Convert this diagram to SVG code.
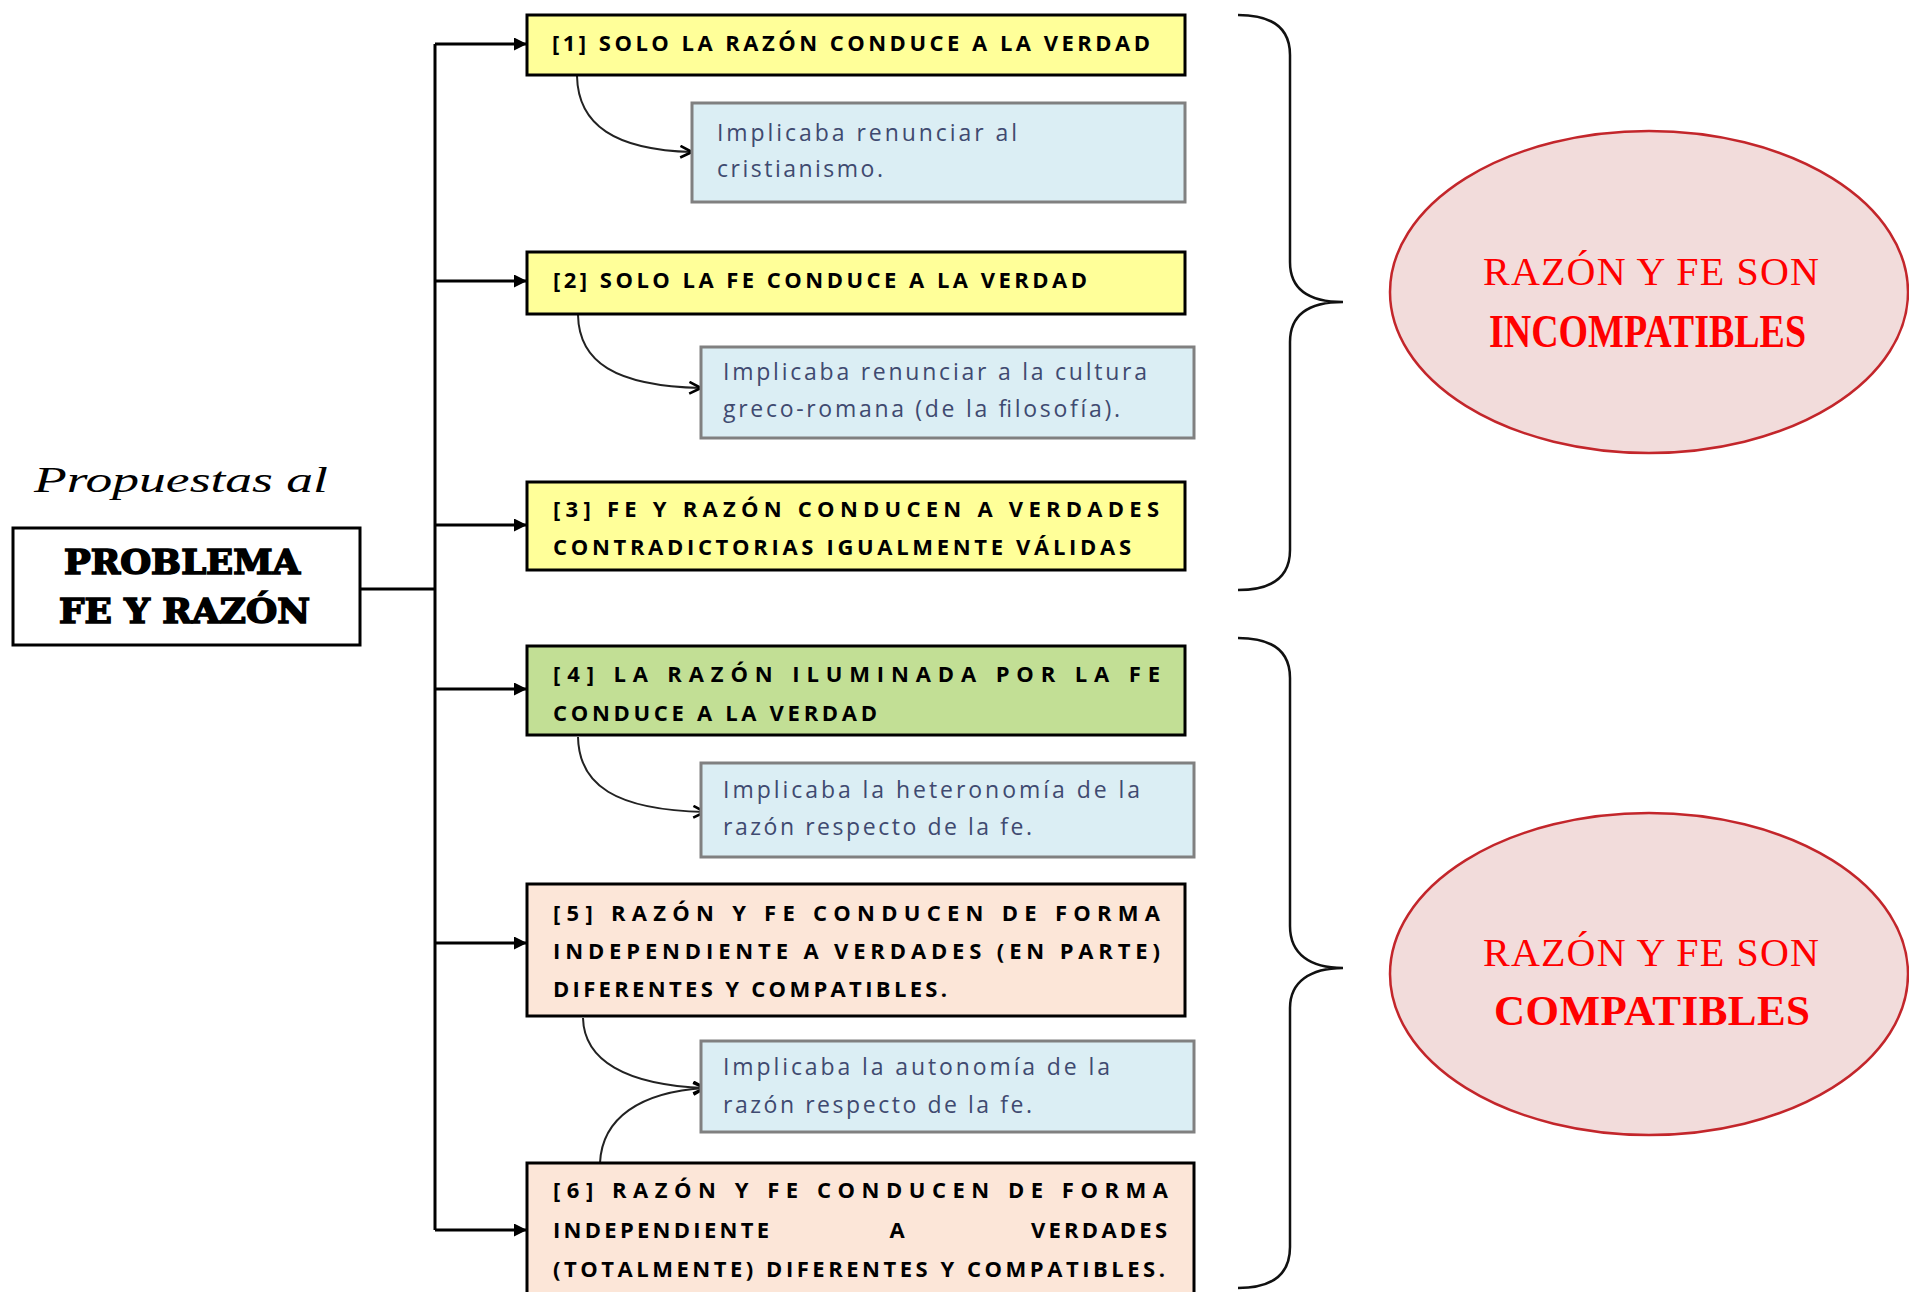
<svg xmlns="http://www.w3.org/2000/svg" width="1909" height="1292" viewBox="0 0 1909 1292">
<defs>
<style>
.bx{stroke:#000;stroke-width:3}
.y{fill:#ffff99}.g{fill:#c2df95}.p{fill:#fce6d8}
.bl{fill:#dbeef4;stroke:#808080;stroke-width:3}
.t{font-family:"Open Sans","Liberation Sans",sans-serif;font-weight:bold;font-size:22px;fill:#000}
.bt{font-family:"Open Sans","Liberation Sans",sans-serif;font-size:23px;fill:#3f4a70}
.et{font-family:"Liberation Serif",serif;fill:#ff0000}
.ln{fill:none;stroke:#000;stroke-width:3}
.cv{fill:none;stroke:#222;stroke-width:2}
.br{fill:none;stroke:#111;stroke-width:2.5}
.hv{font-family:"DejaVu Serif",serif;font-weight:bold;font-size:33px;fill:#000;stroke:#000;stroke-width:1.6}
</style>
<marker id="tri" viewBox="0 0 10 10" refX="10" refY="5" markerWidth="13" markerHeight="13" markerUnits="userSpaceOnUse" orient="auto"><path d="M0,0 L10,5 L0,10 z" fill="#000"/></marker>
<marker id="vee" viewBox="0 0 12 12" refX="11" refY="6" markerWidth="14" markerHeight="14" markerUnits="userSpaceOnUse" orient="auto"><path d="M1,1 L11,6 L1,11" fill="none" stroke="#000" stroke-width="2.2"/></marker>
</defs>
<rect width="1909" height="1292" fill="#fff"/>

<g id="connectors">
<path class="ln" d="M360,589 H435 M435,44 V1230"/>
<path class="ln" d="M435,44 H527" marker-end="url(#tri)"/>
<path class="ln" d="M435,281 H527" marker-end="url(#tri)"/>
<path class="ln" d="M435,525 H527" marker-end="url(#tri)"/>
<path class="ln" d="M435,689 H527" marker-end="url(#tri)"/>
<path class="ln" d="M435,943 H527" marker-end="url(#tri)"/>
<path class="ln" d="M435,1230 H527" marker-end="url(#tri)"/>
<path class="cv" d="M577,76 C578,125 615,150 692,152" marker-end="url(#vee)"/>
<path class="cv" d="M578,315 C579,362 615,386 701,388" marker-end="url(#vee)"/>
<path class="cv" d="M578,737 C579,785 615,810 705,812" marker-end="url(#vee)"/>
<path class="cv" d="M583,1018 C584,1060 625,1085 705,1088" marker-end="url(#vee)"/>
<path class="cv" d="M600,1163 C602,1118 640,1092 705,1088" marker-end="url(#vee)"/>
<path class="br" d="M1238,15 C1275,15 1290,30 1290,55 L1290,262 C1290,290 1310,302 1343,302 C1310,302 1290,314 1290,342 L1290,550 C1290,575 1275,590 1238,590"/>
<path class="br" d="M1238,638 C1275,638 1290,653 1290,678 L1290,926 C1290,954 1310,968 1343,968 C1310,968 1290,982 1290,1008 L1290,1247 C1290,1272 1275,1288 1238,1288"/>
</g>

<g id="title">
<text x="34" y="492" font-family="'Liberation Serif',serif" font-style="italic" font-size="36" textLength="294" lengthAdjust="spacingAndGlyphs">Propuestas al</text>
</g>

<g id="main">
<rect x="13" y="528" width="347" height="117" fill="#fff" class="bx"/>
<text class="hv" x="64" y="574" textLength="236" lengthAdjust="spacingAndGlyphs">PROBLEMA</text>
<text class="hv" x="59" y="623" textLength="251" lengthAdjust="spacingAndGlyphs">FE Y RAZÓN</text>
</g>

<g id="n1">
<rect x="527" y="15" width="658" height="60" class="bx y"/>
<text class="t" x="552" y="51" textLength="598" lengthAdjust="spacing">[1] SOLO LA RAZÓN CONDUCE A LA VERDAD</text>
</g>
<g id="n1b">
<rect x="692" y="103" width="493" height="99" class="bl"/>
<text class="bt" x="717" y="141" textLength="300" lengthAdjust="spacing">Implicaba  renunciar  al</text>
<text class="bt" x="717" y="177" textLength="166" lengthAdjust="spacing">cristianismo.</text>
</g>

<g id="n2">
<rect x="527" y="252" width="658" height="62" class="bx y"/>
<text class="t" x="553" y="288" textLength="534" lengthAdjust="spacing">[2] SOLO LA FE CONDUCE A LA VERDAD</text>
</g>
<g id="n2b">
<rect x="701" y="347" width="493" height="91" class="bl"/>
<text class="bt" x="723" y="380" textLength="424" lengthAdjust="spacing">Implicaba  renunciar  a la cultura</text>
<text class="bt" x="723" y="417" textLength="397" lengthAdjust="spacing">greco-romana  (de la filosofía).</text>
</g>

<g id="n3">
<rect x="527" y="482" width="658" height="88" class="bx y"/>
<text class="t" x="553" y="517" textLength="606" lengthAdjust="spacing">[3] FE Y RAZÓN CONDUCEN A VERDADES</text>
<text class="t" x="553" y="555" textLength="578" lengthAdjust="spacing">CONTRADICTORIAS IGUALMENTE VÁLIDAS</text>
</g>

<g id="n4">
<rect x="527" y="646" width="658" height="89" class="bx g"/>
<text class="t" x="553" y="682" textLength="607" lengthAdjust="spacing">[4] LA RAZÓN ILUMINADA POR LA FE</text>
<text class="t" x="553" y="721" textLength="324" lengthAdjust="spacing">CONDUCE A LA VERDAD</text>
</g>
<g id="n4b">
<rect x="701" y="763" width="493" height="94" class="bl"/>
<text class="bt" x="723" y="798" textLength="417" lengthAdjust="spacing">Implicaba  la heteronomía  de la</text>
<text class="bt" x="723" y="835" textLength="309" lengthAdjust="spacing">razón respecto de la fe.</text>
</g>

<g id="n5">
<rect x="527" y="884" width="658" height="132" class="bx p"/>
<text class="t" x="553" y="921" textLength="607" lengthAdjust="spacing">[5] RAZÓN Y FE CONDUCEN DE FORMA</text>
<text class="t" x="553" y="959" textLength="607" lengthAdjust="spacing">INDEPENDIENTE A VERDADES (EN PARTE)</text>
<text class="t" x="553" y="997" textLength="394" lengthAdjust="spacing">DIFERENTES Y COMPATIBLES.</text>
</g>
<g id="n5b">
<rect x="701" y="1041" width="493" height="91" class="bl"/>
<text class="bt" x="723" y="1075" textLength="387" lengthAdjust="spacing">Implicaba  la autonomía  de la</text>
<text class="bt" x="723" y="1113" textLength="309" lengthAdjust="spacing">razón respecto de la fe.</text>
</g>

<g id="n6">
<rect x="527" y="1163" width="667" height="150" class="bx p"/>
<text class="t" x="553" y="1198" textLength="615" lengthAdjust="spacing">[6] RAZÓN Y FE CONDUCEN DE FORMA</text>
<text class="t" x="553" y="1238" textLength="216" lengthAdjust="spacing">INDEPENDIENTE</text>
<text class="t" x="897" y="1238" text-anchor="middle">A</text>
<text class="t" x="1167" y="1238" textLength="136" lengthAdjust="spacing" text-anchor="end">VERDADES</text>
<text class="t" x="553" y="1277" textLength="612" lengthAdjust="spacing">(TOTALMENTE) DIFERENTES Y COMPATIBLES.</text>
</g>

<g id="e1">
<ellipse cx="1649" cy="292" rx="259" ry="161" fill="#f2dcdb" stroke="#c3262b" stroke-width="2.5"/>
<text class="et" x="1483" y="285" font-size="40" textLength="336" lengthAdjust="spacing">RAZÓN Y FE SON</text>
<text class="et" x="1489" y="347" font-size="46" font-weight="bold" textLength="317" lengthAdjust="spacingAndGlyphs">INCOMPATIBLES</text>
</g>

<g id="e2">
<ellipse cx="1649" cy="974" rx="259" ry="161" fill="#f2dcdb" stroke="#c3262b" stroke-width="2.5"/>
<text class="et" x="1483" y="966" font-size="40" textLength="336" lengthAdjust="spacing">RAZÓN Y FE SON</text>
<text class="et" x="1494" y="1025" font-size="43" font-weight="bold" textLength="316" lengthAdjust="spacing">COMPATIBLES</text>
</g>
</svg>
